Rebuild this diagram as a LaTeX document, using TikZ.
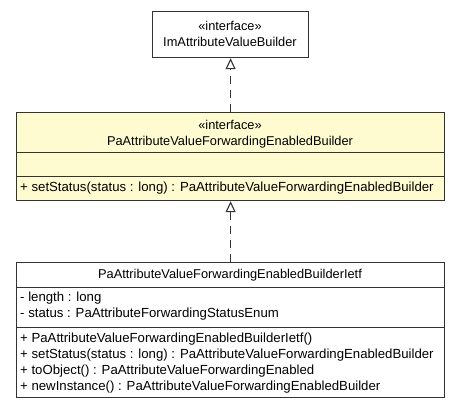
\documentclass[tikz,border=0pt]{standalone}
\usepackage{fontspec}
\setmainfont{Liberation Sans}
\usetikzlibrary{arrows.meta,positioning}

\begin{document}
\begin{tikzpicture}[x=1pt,y=-1pt]
        \tikzstyle{every node}=[font=\fontsize{12.8}{14}\selectfont, inner sep=0pt]
        \tikzstyle{part}=[draw=black!80, line width=1.2pt, anchor=north west, minimum width=428pt]
        \tikzstyle{ipart}=[part, fill={rgb,255:red,255;green,251;blue,208}]
        \tikzstyle{member}=[anchor=west, font=\fontsize{13.2}{14}\selectfont]
        \tikzstyle{realize}=[draw=black!80, line width=1.1pt, dash pattern=on 8pt off 6pt, -{Triangle[open, length=11pt, width=10pt]}]
        \useasboundingbox (0,0) rectangle (461,411);
        % ImAttributeValueBuilder
        \node[part, fill=white, minimum width=156pt, minimum height=46pt] (ibuilder) at (152,11) {};
        \node (ibuilderS) at (230,26) {«interface»};
        \node (ibuilderN) at (230,42) {ImAttributeValueBuilder};
        % PaAttributeValueForwardingEnabledBuilder
        \node[ipart, minimum height=40pt] (enabled) at (16,112) {};
        \node[ipart, minimum height=24pt] (enabledA) at (16,152) {};
        \node[ipart, minimum height=24pt] (enabledM) at (16,176) {};
        \node (enabledS) at (230,125) {«interface»};
        \node (enabledN) at (230,142) {PaAttributeValueForwardingEnabledBuilder};
        \node[member] (m1) at (20,188) {+ setStatus(status : long) : PaAttributeValueForwardingEnabledBuilder};
        % PaAttributeValueForwardingEnabledBuilderIetf
        \node[part, minimum height=25pt] (ietf) at (16,262) {};
        \node[part, minimum height=40pt] (ietfA) at (16,287) {};
        \node[part, minimum height=70pt] (ietfM) at (16,327) {};
        \node (ietfN) at (230,275) {PaAttributeValueForwardingEnabledBuilderIetf};
        \node[member] (a1) at (20,298) {- length : long};
        \node[member] (a2) at (20,314) {- status : PaAttributeForwardingStatusEnum};
        \node[member] (m2) at (20,339) {+ PaAttributeValueForwardingEnabledBuilderIetf()};
        \node[member] (m3) at (20,355) {+ setStatus(status : long) : PaAttributeValueForwardingEnabledBuilder};
        \node[member] (m4) at (20,371) {+ toObject() : PaAttributeValueForwardingEnabled};
        \node[member] (m5) at (20,387) {+ newInstance() : PaAttributeValueForwardingEnabledBuilder};
        % realizations
        \draw[realize] (enabled.north) -- (ibuilder.south);
        \draw[realize] (ietf.north) -- (enabledM.south);
\end{tikzpicture}
\end{document}
